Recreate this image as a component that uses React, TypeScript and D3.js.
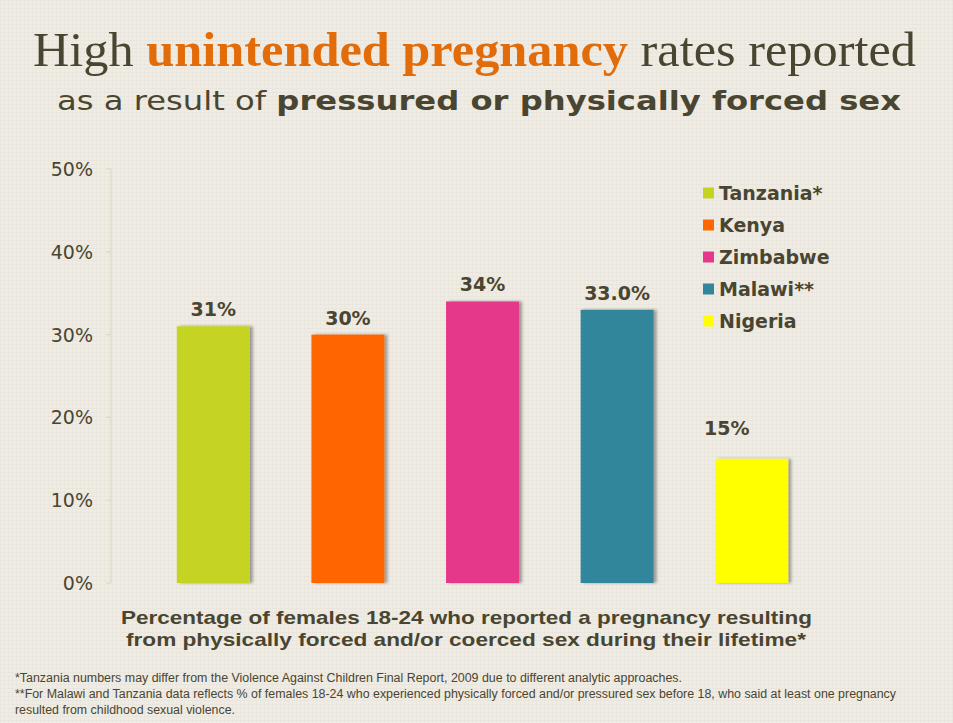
import React from "react";
import * as d3 from "d3";

const countries = ["Tanzania*", "Kenya", "Zimbabwe", "Malawi**", "Nigeria"];
const values = [31, 30, 34, 33, 15];
const valueLabels = ["31%", "30%", "34%", "33.0%", "15%"];
const colors = ["#c5d420", "#ff6600", "#e6388a", "#31869b", "#ffff00"];
const yTicks = [0, 10, 20, 30, 40, 50];
const footnotes = [
  "*Tanzania numbers may differ from the Violence Against Children Final Report, 2009 due to different analytic approaches.",
  "**For Malawi and Tanzania data reflects % of  females 18-24 who experienced physically forced and/or pressured sex before 18, who said at least one pregnancy",
  "resulted from childhood sexual violence.",
];
const axisTitle = [
  "Percentage of females 18-24 who reported a pregnancy resulting",
  "from physically forced and/or coerced sex during their lifetime*",
];

const W = 953;
const H = 723;
const TEXT = "#4a4530";
const ORANGE = "#e36c0a";

export default function App() {
  const x = d3
    .scaleBand<string>()
    .domain(countries)
    .range([146, 819])
    .paddingInner(0.458)
    .paddingOuter(0.229);
  const y = d3.scaleLinear().domain([0, 50]).range([583, 169]);
  const legendY = d3.scalePoint<string>().domain(countries).range([193, 321]);

  // label placement tweaks (Nigeria label sits offset from its bar in the original)
  const labelDx = (i: number) => (i === 4 ? -25 : 0);
  const labelDy = (i: number) => (i === 4 ? -24 : -10);

  return (
    <svg
      width={W}
      height={H}
      style={{ position: "absolute", left: 0, top: 0 }}
      xmlns="http://www.w3.org/2000/svg"
    >
      <defs>
        <pattern id="linen" width="4" height="4" patternUnits="userSpaceOnUse">
          <rect width="4" height="4" fill="#efece5" />
          <rect x="0" y="0" width="4" height="1" fill="#e6e2d9" opacity="0.6" />
          <rect x="0" y="0" width="1" height="4" fill="#e8e4db" opacity="0.5" />
        </pattern>
        <filter id="shadow" x="-20%" y="-5%" width="150%" height="110%">
          <feDropShadow dx="3" dy="0" stdDeviation="1.4" floodColor="#000" floodOpacity="0.35" />
        </filter>
      </defs>
      <rect width={W} height={H} fill="url(#linen)" />

      {/* Title */}
      <text
        x={33}
        y={66}
        textLength={883}
        lengthAdjust="spacingAndGlyphs"
        fontFamily="'Liberation Serif', 'DejaVu Serif', serif"
        fontSize={49}
        fill={TEXT}
      >
        <tspan>High </tspan>
        <tspan fill={ORANGE} fontWeight="bold">unintended pregnancy</tspan>
        <tspan> rates reported</tspan>
      </text>
      <text
        x={57}
        y={110}
        textLength={844}
        lengthAdjust="spacingAndGlyphs"
        fontFamily="'DejaVu Sans', Verdana, sans-serif"
        fontSize={27}
        fill={TEXT}
      >
        <tspan>as a result of </tspan>
        <tspan fontWeight="bold">pressured or physically forced sex</tspan>
      </text>

      {/* Y axis */}
      <line x1={111} x2={111} y1={y(50)} y2={y(0)} stroke="#d9d5bf" strokeWidth={1} />
      {yTicks.map((t) => (
        <g key={t}>
          <line x1={106} x2={111} y1={y(t)} y2={y(t)} stroke="#d9d5bf" strokeWidth={1} />
          <text
            x={93}
            y={y(t) + 7}
            textAnchor="end"
            fontFamily="'DejaVu Sans', Verdana, sans-serif"
            fontSize={19}
            fill={TEXT}
          >
            {t}%
          </text>
        </g>
      ))}

      {/* Bars */}
      {countries.map((c, i) => (
        <rect
          key={c}
          x={x(c)}
          y={y(values[i])}
          width={x.bandwidth()}
          height={y(0) - y(values[i])}
          fill={colors[i]}
          filter="url(#shadow)"
        />
      ))}
      {countries.map((c, i) => (
        <text
          key={c + "-l"}
          x={(x(c) as number) + x.bandwidth() / 2 + labelDx(i)}
          y={y(values[i]) + labelDy(i)}
          textAnchor="middle"
          fontFamily="'DejaVu Sans', Verdana, sans-serif"
          fontWeight="bold"
          fontSize={19}
          fill={TEXT}
        >
          {valueLabels[i]}
        </text>
      ))}

      {/* Legend */}
      {countries.map((c, i) => (
        <g key={c + "-lg"} transform={`translate(703, ${legendY(c)})`}>
          <rect x={0} y={-5.5} width={11} height={11} fill={colors[i]} />
          <text
            x={16}
            y={7}
            fontFamily="'DejaVu Sans', Verdana, sans-serif"
            fontWeight="bold"
            fontSize={19}
            fill={TEXT}
          >
            {c}
          </text>
        </g>
      ))}

      {/* Axis title */}
      {axisTitle.map((line, i) => (
        <text
          key={"at" + i}
          x={[121, 126][i]}
          y={[624, 646][i]}
          textLength={[691, 680][i]}
          lengthAdjust="spacingAndGlyphs"
          fontFamily="'Liberation Sans Narrow', 'Liberation Sans', Arial, sans-serif"
          fontWeight="bold"
          fontSize={19}
          fill={TEXT}
        >
          {line}
        </text>
      ))}

      {/* Footnotes */}
      {footnotes.map((f, i) => (
        <text
          key={i}
          x={15}
          y={682 + i * 16}
          textLength={[667, 881, 220][i]}
          lengthAdjust="spacingAndGlyphs"
          fontFamily="'Liberation Sans Narrow', 'Liberation Sans', Arial, sans-serif"
          fontSize={12}
          fill={TEXT}
        >
          {f}
        </text>
      ))}
    </svg>
  );
}
